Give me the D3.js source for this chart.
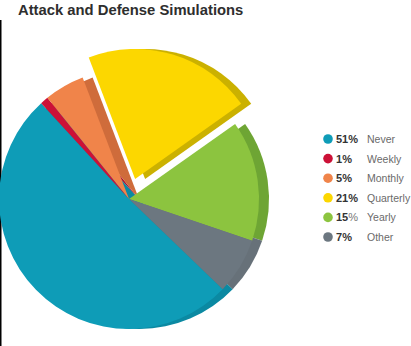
<!DOCTYPE html>
<html><head><meta charset="utf-8">
<script src="https://cdn.jsdelivr.net/npm/d3@7"></script>
<style>html,body{margin:0;padding:0;background:#fff;} svg{display:block;}</style>
</head><body>
<svg id="chart" width="411" height="346"></svg>
<script>
// Survey answers: how often attack and defense simulations are run
const categories = ["Never", "Weekly", "Monthly", "Quarterly", "Yearly", "Other"];
const shares = [51, 1, 5, 21, 15, 7];
const faceColors = ["#0e9cb7", "#cc1137", "#f0844a", "#fcd700", "#8cc43f", "#6c7780"];
const sideColors = ["#0b89a2", "#a60e2c", "#cf6c3b", "#cbb100", "#6ea534", "#677179"];
const explodedCategory = "Quarterly";
const plainPercentSign = ["Yearly"];

const svg = d3.select("#chart");
const deg = Math.PI / 180;
const cx = 129, cy = 199, radius = 130, explode = 21;
const depth = { x: 10, y: 0 };          // extrusion of the pie's side wall
const startAngle = 133.9 * deg;         // "Never" starts lower right, slices run clockwise

const rows = categories.map((c, i) => ({ name: c, value: shares[i], face: faceColors[i], side: sideColors[i] }));

const pie = d3.pie().sort(null).value(d => d.value)
  .startAngle(startAngle).endAngle(startAngle + 2 * Math.PI);
const arc = d3.arc().innerRadius(0).outerRadius(radius);
const slices = pie(rows).map(s => {
  const mid = (s.startAngle + s.endAngle) / 2;
  const k = s.data.name === explodedCategory ? explode : 0;
  return Object.assign(s, { ox: k * Math.sin(mid), oy: -k * Math.cos(mid) });
});

// left frame edge
svg.append("rect").attr("x", 0).attr("y", 20).attr("width", 1.5).attr("height", 326).attr("fill", "#000");

// side walls first, faces on top
svg.append("g").selectAll("path").data(slices).join("path")
  .attr("transform", d => `translate(${cx + d.ox + depth.x},${cy + d.oy + depth.y})`)
  .attr("d", arc).attr("fill", d => d.data.side);
svg.append("g").selectAll("path").data(slices).join("path")
  .attr("transform", d => `translate(${cx + d.ox},${cy + d.oy})`)
  .attr("d", arc).attr("fill", d => d.data.face);

// title
svg.append("text").attr("x", 18).attr("y", 15)
  .attr("font-family", "'Liberation Sans', Arial, sans-serif")
  .attr("font-size", 14.8).attr("font-weight", "bold").attr("fill", "#2e2e2e")
  .text("Attack and Defense Simulations");

// legend
const legendY = d3.scalePoint().domain(categories).range([139, 237]);
const item = svg.append("g").selectAll("g").data(rows).join("g")
  .attr("transform", d => `translate(0,${legendY(d.name)})`);
item.append("circle").attr("cx", 328).attr("cy", 0).attr("r", 4.8).attr("fill", d => d.face);
const pct = item.append("text").attr("x", 336).attr("y", 4)
  .attr("font-family", "'Liberation Sans', Arial, sans-serif").attr("font-size", 11)
  .attr("fill", "#333");
pct.append("tspan").attr("font-weight", "bold").text(d => d.value);
pct.append("tspan")
  .attr("font-weight", d => plainPercentSign.includes(d.name) ? "normal" : "bold")
  .attr("fill", d => plainPercentSign.includes(d.name) ? "#777" : "#333")
  .text("%");
item.append("text").attr("x", 367).attr("y", 4)
  .attr("font-family", "'Liberation Sans', Arial, sans-serif").attr("font-size", 10.5)
  .attr("fill", "#6a6a6a").text(d => d.name);
</script>
</body></html>
